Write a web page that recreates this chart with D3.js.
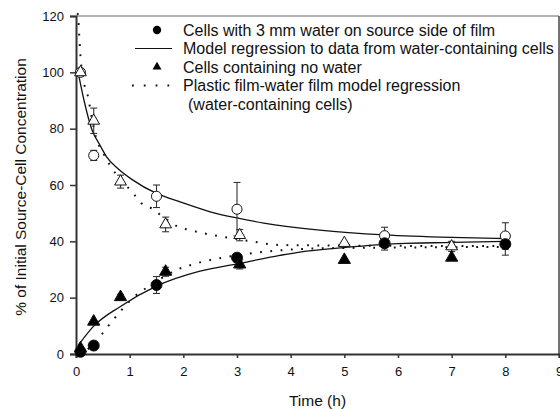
<!DOCTYPE html>
<html>
<head>
<meta charset="utf-8">
<script src="https://cdn.jsdelivr.net/npm/d3@7"></script>
<style>
  body { margin: 0; background: #fff; }
  svg { display: block; font-family: Arial, "Liberation Sans", sans-serif; }
</style>
</head>
<body>
<div id="chart"></div>
<script>
(function() {
  "use strict";

  // measured points (time in h, % of initial source-cell concentration)
  var circleTime = [0.083, 0.33, 1.5, 3, 5.75, 8];
  var openCircle = [100, 70.5, 56, 51.4, 42, 41.9];
  var openCircleErr = [0, 1.8, 4, 9.5, 3, 4.7];
  var filledCircle = [0.8, 3, 24.5, 34.2, 39.3, 39];
  var filledCircleErr = [0, 0, 3, 1.5, 2.4, 3.9];

  var triTime = [0.083, 0.33, 0.83, 1.67, 3.05, 5, 7];
  var openTri = [100, 82.8, 61.2, 46, 42.2, 39.4, 38.2];
  var openTriErr = [0, 4.5, 2.3, 2.6, 2, 0, 1.8];
  var filledTri = [2, 11.5, 20.2, 29.2, 31.8, 33.4, 34.2];
  var filledTriErr = [0, 0, 1, 1.6, 1.6, 0, 0];

  // regression curves
  var modelUpper = [[0.05, 99], [0.15, 90], [0.29, 80], [0.45, 74], [0.57, 70], [0.8, 65.5], [1.04, 62],
    [1.5, 57], [1.94, 54], [2.5, 50.5], [3, 48.3], [3.5, 46.5], [4.54, 44], [5.75, 42.3], [7, 41.4], [8, 41]];
  var modelLower = [[0.04, 3], [0.32, 9.7], [0.82, 16.8], [1.5, 24.1], [2.31, 29.4], [3, 32], [3.8, 35],
    [4.17, 36.2], [5, 37.8], [6, 39.2], [7, 39.6], [8, 40]];
  var filmUpper = [[0.03, 121], [0.043, 118.6], [0.06, 113.2], [0.075, 107.9], [0.088, 104.6], [0.136, 97.5],
    [0.23, 90.8], [0.29, 84.2], [0.37, 77.1], [0.51, 71.2], [0.63, 67.1], [0.76, 63.5], [1.07, 57],
    [1.22, 53.5], [1.41, 51.7], [1.6, 49], [1.9, 45.2], [2.12, 44], [2.55, 42.2], [2.87, 41.2],
    [3.3, 39.9], [3.8, 38.7], [5, 38.5], [6, 38.4], [8, 38.3]];
  var filmLower = [[0.05, 0], [0.2, 1.5], [0.38, 4.4], [0.54, 8.5], [0.68, 11.8], [0.82, 15], [1.16, 21.5],
    [1.35, 23.9], [1.6, 27], [1.87, 29.8], [2.25, 32.2], [3, 35], [3.8, 36.8], [4.54, 37.5], [6, 37.8], [8, 38]];

  var xTicks = [0, 1, 2, 3, 4, 5, 6, 7, 8, 9];
  var yTicks = [0, 20, 40, 60, 80, 100, 120];

  var legendLabels = [
    "Cells with 3 mm water on source side of film",
    "Model regression to data from water-containing cells",
    "Cells containing no water",
    "Plastic film-water film model regression",
    "(water-containing cells)"
  ];

  var width = 560, height = 409;
  var margin = { top: 16, right: 1, bottom: 55, left: 76 };

  var svg = d3.select('#chart').append('svg')
    .attr('width', width)
    .attr('height', height);

  var x = d3.scaleLinear().domain([0, 9]).range([margin.left, width - margin.right]);
  var y = d3.scaleLinear().domain([0, 120]).range([height - margin.bottom, margin.top]);

  // frame (top and right)
  svg.append('line')
    .attr('x1', x(0)).attr('x2', x(9)).attr('y1', y(120)).attr('y2', y(120))
    .style('stroke', '#999').style('stroke-width', 1.5);
  svg.append('line')
    .attr('x1', x(9)).attr('x2', x(9)).attr('y1', y(120)).attr('y2', y(0))
    .style('stroke', '#444').style('stroke-width', 1.5);

  // axes
  var xAxis = svg.append('g')
    .attr('transform', 'translate(0,' + y(0) + ')')
    .call(d3.axisBottom(x).tickValues(xTicks).tickSize(4).tickPadding(9));
  var yAxis = svg.append('g')
    .attr('transform', 'translate(' + x(0) + ',0)')
    .call(d3.axisLeft(y).tickValues(yTicks).tickSize(6).tickPadding(6));

  [xAxis, yAxis].forEach(function(g) {
    g.select('.domain').style('stroke', '#333').style('stroke-width', 2);
    g.selectAll('.tick line').style('stroke', '#333').style('stroke-width', 1.5);
    g.selectAll('.tick text').style('font-size', '13px').style('fill', '#111')
      .style('font-family', 'Arial, "Liberation Sans", sans-serif');
  });

  svg.append('text')
    .attr('x', (x(0) + x(9)) / 2)
    .attr('y', 406)
    .attr('text-anchor', 'middle')
    .style('font-size', '15.5px')
    .style('fill', '#111')
    .text('Time (h)');

  svg.append('text')
    .attr('transform', 'translate(26,' + ((y(0) + y(120)) / 2 + 2) + ') rotate(-90)')
    .attr('text-anchor', 'middle')
    .style('font-size', '15.5px')
    .style('fill', '#111')
    .text('% of Initial Source-Cell Concentration');

  // curves
  var line = d3.line()
    .x(function(d) { return x(d[0]); })
    .y(function(d) { return y(d[1]); })
    .curve(d3.curveMonotoneX);

  var plot = svg.append('g');

  [modelUpper, modelLower].forEach(function(c) {
    plot.append('path').datum(c).attr('d', line)
      .style('fill', 'none').style('stroke', '#111').style('stroke-width', 1.3);
  });
  [filmUpper, filmLower].forEach(function(c) {
    plot.append('path').datum(c).attr('d', line)
      .style('fill', 'none').style('stroke', '#111').style('stroke-width', 2)
      .style('stroke-dasharray', '1.8,8.5');
  });

  function zip(t, v, e) {
    return t.map(function(d, i) { return { t: d, v: v[i], e: e[i] }; });
  }

  var series = [
    { data: zip(circleTime, openCircle, openCircleErr), shape: d3.symbolCircle, size: 80, filled: false },
    { data: zip(circleTime, filledCircle, filledCircleErr), shape: d3.symbolCircle, size: 95, filled: true },
    { data: zip(triTime, openTri, openTriErr), shape: d3.symbolTriangle, size: 60, filled: false },
    { data: zip(triTime, filledTri, filledTriErr), shape: d3.symbolTriangle, size: 65, filled: true }
  ];

  // error bars first, markers on top
  series.forEach(function(s) {
    var bars = plot.append('g').selectAll('g')
      .data(s.data.filter(function(d) { return d.e > 0; }))
      .enter().append('g')
      .style('stroke', '#333').style('stroke-width', 1.1);
    bars.append('line')
      .attr('x1', function(d) { return x(d.t); })
      .attr('x2', function(d) { return x(d.t); })
      .attr('y1', function(d) { return y(d.v - d.e); })
      .attr('y2', function(d) { return y(d.v + d.e); });
    [-1, 1].forEach(function(sign) {
      bars.append('line')
        .attr('x1', function(d) { return x(d.t) - 3.5; })
        .attr('x2', function(d) { return x(d.t) + 3.5; })
        .attr('y1', function(d) { return y(d.v + sign * d.e); })
        .attr('y2', function(d) { return y(d.v + sign * d.e); });
    });
  });

  series.forEach(function(s) {
    plot.append('g').selectAll('path')
      .data(s.data)
      .enter().append('path')
      .attr('transform', function(d) { return 'translate(' + x(d.t) + ',' + y(d.v) + ')'; })
      .attr('d', d3.symbol().type(s.shape).size(s.size))
      .style('fill', s.filled ? '#000' : '#fff')
      .style('stroke', '#111')
      .style('stroke-width', 1);
  });

  // legend
  var legend = svg.append('g');
  var rowY = [30, 48.5, 67, 85.5, 104];
  legendLabels.forEach(function(label, i) {
    legend.append('text')
      .attr('x', i === 4 ? 188 : 183)
      .attr('y', rowY[i] + 5.5)
      .style('font-size', '16px')
      .style('fill', '#111')
      .text(label);
  });
  legend.append('path')
    .attr('transform', 'translate(157,' + rowY[0] + ')')
    .attr('d', d3.symbol().type(d3.symbolCircle).size(55))
    .style('fill', '#000');
  legend.append('line')
    .attr('x1', 135).attr('x2', 172).attr('y1', rowY[1]).attr('y2', rowY[1])
    .style('stroke', '#111').style('stroke-width', 1.2);
  legend.append('path')
    .attr('transform', 'translate(157,' + rowY[2] + ')')
    .attr('d', d3.symbol().type(d3.symbolTriangle).size(35))
    .style('fill', '#000');
  legend.append('line')
    .attr('x1', 132).attr('x2', 170).attr('y1', rowY[3]).attr('y2', rowY[3])
    .style('stroke', '#111').style('stroke-width', 2)
    .style('stroke-dasharray', '1.8,10');
})();
</script>
</body>
</html>
